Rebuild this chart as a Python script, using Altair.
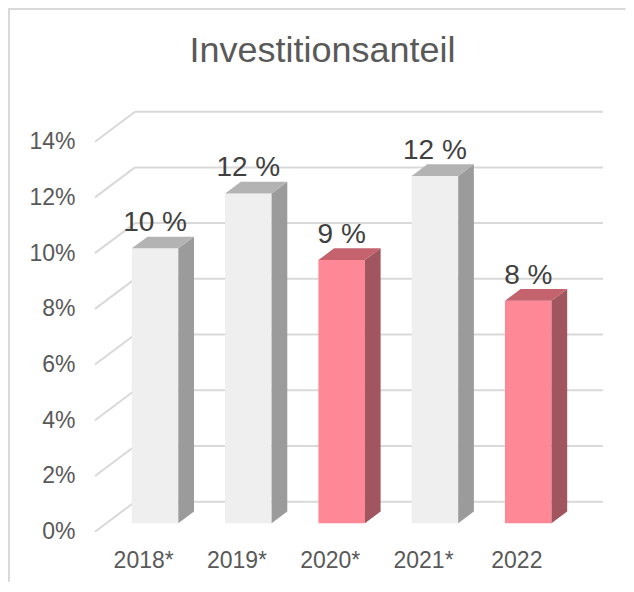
import json
import altair as alt
import pandas as pd

# ---------------- data ----------------
categories = ["2018*", "2019*", "2020*", "2021*", "2022"]
values = [0.0987, 0.1184, 0.0945, 0.1247, 0.0799]
highlight = [False, False, True, False, True]
y_ticks = [0, 0.02, 0.04, 0.06, 0.08, 0.10, 0.12, 0.14]
title_text = "Investitionsanteil"

# ---------------- style / geometry constants ----------------
FONT = "Liberation Sans"
PX_X = 93.3            # pixels per category band (front plane)
N = len(categories)
W = N * PX_X
H = 390
Y_MAX = 0.14
PX_Y = H / Y_MAX


def ux(px):
    return px / PX_X


def uy(px):
    return px / PX_Y


WALL_DX, WALL_DY = ux(40), uy(30)      # full depth of the 3D box
BAR_SX, BAR_SY = ux(13.4), uy(8.4)     # where the bar front face sits
BAR_DX, BAR_DY = ux(15.7), uy(11.7)    # depth of a bar
HALF = ux(23.25)                       # half bar width

COLORS = {
    False: {"front": "#EFEFEF", "side": "#9B9B9B", "top": "#B3B3B3"},
    True: {"front": "#FF8896", "side": "#A0555F", "top": "#C4626D"},
}
GRID = "#D9D9D9"
TEXT = "#595959"

# ---------------- derived tables ----------------
fronts, faces, labels = [], [], []
for i, (cat, v, hl) in enumerate(zip(categories, values, highlight)):
    c = COLORS[hl]
    xc = i + 0.5 + BAR_SX
    x0, x1 = xc - HALF, xc + HALF
    b = BAR_SY
    t = b + v
    fronts.append({"x": x0, "x2": x1, "y": b, "y2": t, "c": c["front"]})
    # side face
    faces.append({"id": f"s{i}", "x": x1, "y": b, "y2": t, "c": c["side"]})
    faces.append({"id": f"s{i}", "x": x1 + BAR_DX, "y": b + BAR_DY, "y2": t + BAR_DY, "c": c["side"]})
    # top face
    faces.append({"id": f"t{i}", "x": x0, "y": t, "y2": t, "c": c["top"]})
    faces.append({"id": f"t{i}", "x": x0 + BAR_DX, "y": t, "y2": t + BAR_DY, "c": c["top"]})
    faces.append({"id": f"t{i}", "x": x1, "y": t, "y2": t + BAR_DY, "c": c["top"]})
    faces.append({"id": f"t{i}", "x": x1 + BAR_DX, "y": t + BAR_DY, "y2": t + BAR_DY, "c": c["top"]})
    labels.append({"x": xc, "y": t, "label": f"{round(v * 100):.0f} %"})

grid_back = pd.DataFrame({"x": [WALL_DX] * len(y_ticks),
                          "x2": [N + WALL_DX + ux(1.5)] * len(y_ticks),
                          "y": [v + WALL_DY for v in y_ticks],
                          "y2": [v + WALL_DY for v in y_ticks]})
grid_diag = pd.DataFrame({"x": [0] * len(y_ticks),
                          "x2": [WALL_DX] * len(y_ticks),
                          "y": y_ticks,
                          "y2": [v + WALL_DY for v in y_ticks]})

xscale = alt.Scale(domain=[0, N], nice=False, zero=False)
yscale = alt.Scale(domain=[0, Y_MAX], nice=False)

xaxis = alt.Axis(values=[i + 0.5 for i in range(N)],
                 labelExpr=f"{json.dumps(categories)}[round(datum.value - 0.5)]",
                 title=None, domain=False, ticks=False, tickSize=0, grid=False,
                 labelFont=FONT, labelFontSize=23, labelColor=TEXT,
                 labelBaseline="alphabetic", labelPadding=36, labelOffset=1.5)
yaxis = alt.Axis(values=y_ticks, format=".0%", title=None, domain=False,
                 ticks=False, tickSize=0, grid=False, labelFont=FONT,
                 labelFontSize=23, labelColor=TEXT, labelPadding=20,
                 labelBaseline="middle")


def X():
    return alt.X("x:Q", scale=xscale, axis=xaxis)


def Y():
    return alt.Y("y:Q", scale=yscale, axis=yaxis, stack=None)


back = alt.Chart(grid_back).mark_rule(color=GRID, strokeWidth=2).encode(
    x=X(), x2="x2:Q", y=Y(), y2="y2:Q")
diag = alt.Chart(grid_diag).mark_rule(color=GRID, strokeWidth=2).encode(
    x=X(), x2="x2:Q", y=Y(), y2="y2:Q")
front = alt.Chart(pd.DataFrame(fronts)).mark_rect().encode(
    x=X(), x2="x2:Q", y=Y(), y2="y2:Q", color=alt.Color("c:N", scale=None))
faces_l = alt.Chart(pd.DataFrame(faces)).mark_area(orient="vertical", interpolate="linear").encode(
    x=X(), y=Y(), y2="y2:Q", detail="id:N", color=alt.Color("c:N", scale=None))
text = alt.Chart(pd.DataFrame(labels)).mark_text(
    baseline="alphabetic", align="center", dy=-17, fontSize=28, font=FONT,
    color="#404040").encode(x=X(), y=Y(), text="label:N")

border_l = alt.Chart(pd.DataFrame({"k": [0]})).mark_rule(color=GRID, strokeWidth=2).encode(
    x=alt.value(-86), y=alt.value(-133.7), y2=alt.value(H + 50))
border_t = alt.Chart(pd.DataFrame({"k": [0]})).mark_rule(color=GRID, strokeWidth=2).encode(
    x=alt.value(-87), x2=alt.value(W + 64), y=alt.value(-132.7))

title = alt.Chart(pd.DataFrame({"t": [title_text]})).mark_text(
    font=FONT, fontSize=36, color=TEXT, align="center", baseline="alphabetic"
).encode(x=alt.value(322.5 - 95), y=alt.value(62 - 141.7), text="t:N")

chart = alt.layer(border_l, border_t, back, diag, front, faces_l, text, title).properties(
    width=W, height=H,
    autosize="none",
    padding={"left": 87, "top": 133.7, "right": 64, "bottom": 50},
    background="white",
).configure_view(stroke=None)

chart.save("out.html", embed_options={"renderer": "svg", "actions": False})
